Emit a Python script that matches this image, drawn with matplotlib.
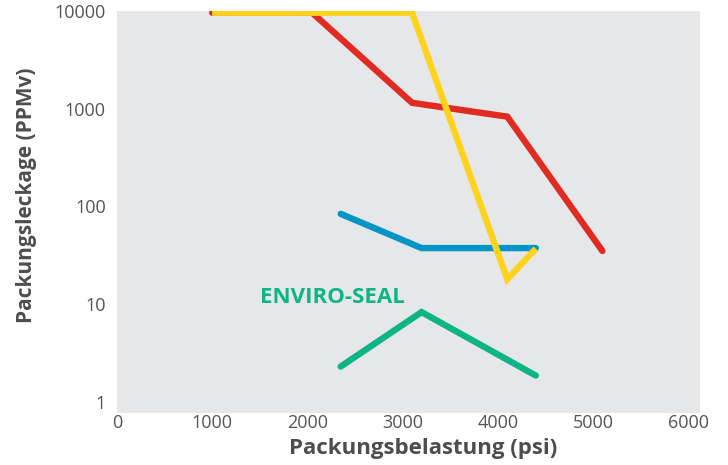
import numpy as np
import matplotlib
matplotlib.use("Agg")
import matplotlib.pyplot as plt

# packing load (psi) vs. packing leakage (ppmv)
red_x = [1000, 2050, 3100, 4100, 5100]
red_y = [9600, 9600, 1150, 830, 35]

yellow_x = [1000, 3100, 4100, 4400]
yellow_y = [9600, 9600, 18, 37]

blue_x = [2350, 3200, 4400]
blue_y = [84, 37.5, 37.5]

green_x = [2350, 3200, 4400]
green_y = [2.3, 8.3, 1.86]

x_ticks = [0, 1000, 2000, 3000, 4000, 5000, 6000]
y_ticks = [1, 10, 100, 1000, 10000]

plt.rcParams['font.family'] = ['Open Sans', 'DejaVu Sans']

fig = plt.figure(figsize=(7.28, 4.65), dpi=100)
ax = fig.add_axes([117/728, 1-413/465, (700-117)/728, (413-11)/465])
ax.set_facecolor('#e6e7e8')
for s in ax.spines.values():
    s.set_visible(False)

lw = 4.6
ax.plot(red_x, red_y, color='#e12a21', lw=lw, solid_capstyle='round', solid_joinstyle='miter', zorder=3)
ax.plot(yellow_x, yellow_y, color='#ffd31d', lw=lw, solid_capstyle='butt', solid_joinstyle='miter', zorder=4)
ax.plot(blue_x, blue_y, color='#0095c6', lw=lw, solid_capstyle='round', solid_joinstyle='miter', zorder=3)
ax.plot(green_x, green_y, color='#0db486', lw=lw, solid_capstyle='round', solid_joinstyle='miter', zorder=3)

ax.text(1500, 11.8, 'ENVIRO-SEAL', color='#0db486', fontsize=16, fontweight='bold',
        va='center', ha='left')

ax.set_yscale('log')
ax.set_xlim(0, 6125)
ax.set_ylim(0.77, 10000)
ax.set_xticks(x_ticks)
ax.set_xticklabels([str(v) for v in x_ticks])
ax.set_yticks(y_ticks)
ax.set_yticklabels([str(v) for v in y_ticks])
ax.yaxis.set_minor_locator(matplotlib.ticker.NullLocator())
ax.tick_params(length=0, labelsize=13, labelcolor='#555555')
ax.tick_params(axis='y', pad=8)
ax.tick_params(axis='x', pad=1)

ax.set_xlabel('Packungsbelastung (psi)', fontsize=16, fontweight='bold', color='#4d4d4d')
ax.set_ylabel('Packungsleckage (PPMv)', fontsize=15, fontweight='bold', color='#4d4d4d')
ax.xaxis.set_label_coords(0.525, -0.062)
ax.yaxis.set_label_coords(-0.137, 0.542)

fig.savefig('out.png', dpi=100)
